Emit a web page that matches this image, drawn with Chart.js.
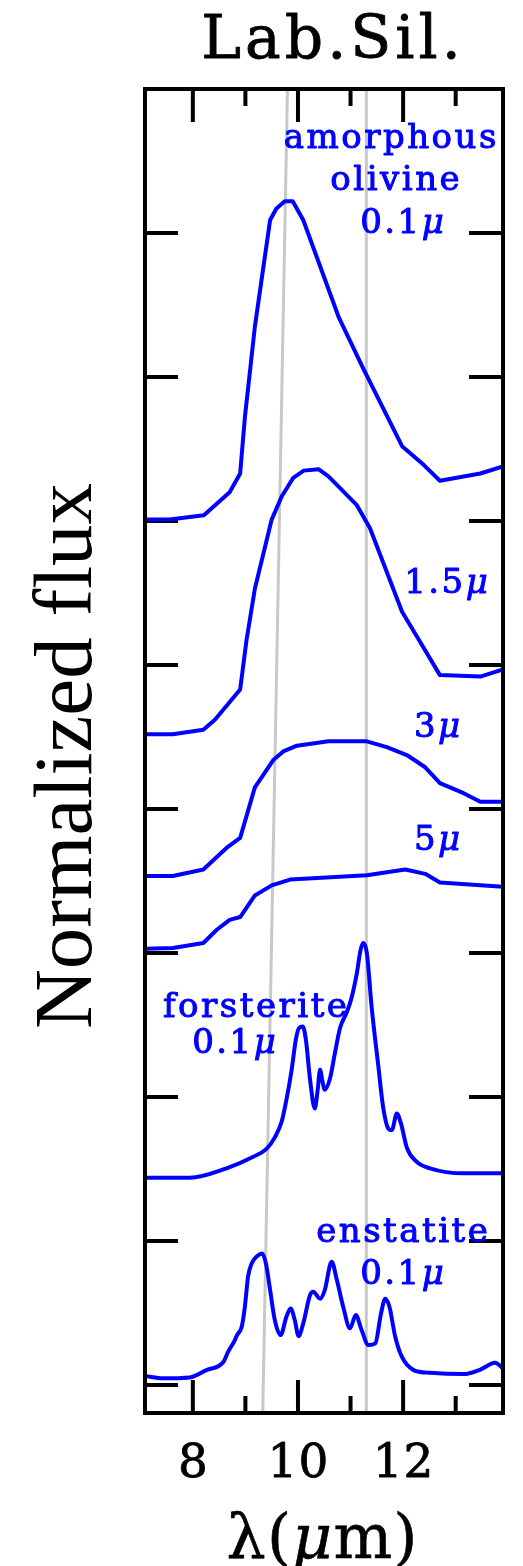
<!DOCTYPE html>
<html>
<head>
<meta charset="utf-8">
<script src="https://cdn.jsdelivr.net/npm/chart.js@4.4.0/dist/chart.umd.min.js"></script>
<style>
  html, body { margin: 0; padding: 0; background: #fff; }
  #wrap { width: 523px; height: 1566px; }
</style>
</head>
<body>
<div id="wrap"><canvas id="labSil" width="523" height="1566"></canvas></div>
<script>
// wavelength (micron) and offset normalized flux
const olivine01X = [7.10, 7.56, 8.21, 8.70, 8.90, 8.99, 9.09, 9.18, 9.47, 9.59, 9.75, 9.90, 10.10, 10.77, 11.24, 11.98, 12.39, 12.70, 13.47, 13.90];
const olivine01Y = [6.01, 6.01, 6.04, 6.20, 6.33, 6.72, 7.05, 7.35, 8.09, 8.17, 8.22, 8.22, 8.09, 7.42, 7.06, 6.52, 6.39, 6.28, 6.33, 6.38];

const olivine15X = [7.10, 7.62, 8.20, 8.42, 8.90, 9.02, 9.18, 9.50, 9.69, 9.91, 10.11, 10.39, 10.58, 11.12, 11.37, 11.98, 12.39, 12.70, 13.47, 13.90];
const olivine15Y = [4.52, 4.52, 4.55, 4.62, 4.83, 5.17, 5.53, 6.01, 6.17, 6.30, 6.35, 6.36, 6.31, 6.11, 5.95, 5.37, 5.12, 4.93, 4.92, 4.97];

const olivine3X = [7.10, 7.62, 8.20, 8.64, 8.90, 9.18, 9.53, 9.72, 9.98, 10.58, 11.31, 11.69, 12.07, 12.42, 12.70, 13.15, 13.47, 13.90];
const olivine3Y = [3.535, 3.535, 3.58, 3.73, 3.80, 4.15, 4.34, 4.40, 4.44, 4.47, 4.47, 4.43, 4.375, 4.29, 4.18, 4.11, 4.05, 4.05];

const olivine5X = [7.10, 7.62, 8.20, 8.45, 8.70, 8.90, 9.18, 9.50, 9.85, 11.31, 12.04, 12.42, 12.70, 13.47, 13.90];
const olivine5Y = [3.03, 3.035, 3.07, 3.16, 3.23, 3.25, 3.40, 3.47, 3.51, 3.54, 3.58, 3.55, 3.49, 3.47, 3.46];

const forsteriteX = [7.10, 7.94, 8.64, 9.15, 9.40, 9.56, 9.69, 9.78, 9.88, 9.96, 10.02, 10.09, 10.15, 10.23, 10.32, 10.375, 10.42, 10.46, 10.51, 10.61, 10.70, 10.80, 10.93, 11.02, 11.12, 11.19, 11.24, 11.31, 11.40, 11.53, 11.62, 11.72, 11.785, 11.88, 11.96, 12.07, 12.26, 12.51, 13.15, 13.90];
const forsteriteY = [1.44, 1.44, 1.505, 1.585, 1.64, 1.72, 1.83, 1.98, 2.19, 2.40, 2.48, 2.49, 2.40, 2.12, 1.92, 2.05, 2.19, 2.12, 2.05, 2.13, 2.30, 2.48, 2.59, 2.69, 2.86, 3.02, 3.07, 3.00, 2.63, 2.21, 1.93, 1.78, 1.77, 1.885, 1.815, 1.65, 1.55, 1.505, 1.47, 1.47];

const enstatiteX = [7.10, 7.43, 7.94, 8.26, 8.58, 8.67, 8.80, 8.84, 8.93, 8.99, 9.05, 9.12, 9.21, 9.32, 9.39, 9.47, 9.56, 9.67, 9.78, 9.86, 9.94, 10.01, 10.10, 10.23, 10.29, 10.42, 10.51, 10.64, 10.74, 10.86, 10.99, 11.10, 11.21, 11.34, 11.47, 11.58, 11.66, 11.74, 11.85, 11.975, 12.20, 12.51, 13.15, 13.47, 13.75, 13.90];
const enstatiteY = [0.062, 0.047, 0.053, 0.104, 0.16, 0.23, 0.3125, 0.347, 0.405, 0.544, 0.752, 0.845, 0.891, 0.914, 0.845, 0.66, 0.45, 0.347, 0.474, 0.532, 0.45, 0.34, 0.428, 0.625, 0.648, 0.60, 0.66, 0.856, 0.729, 0.544, 0.394, 0.486, 0.382, 0.278, 0.289, 0.498, 0.60, 0.544, 0.335, 0.197, 0.104, 0.085, 0.076, 0.108, 0.155, 0.116];

// grey reference lines (x at top and bottom of frame)
const refLine1X = [9.80, 9.33];
const refLine2X = [11.30, 11.30];
const refLineY = [9, -0.194];

const majorXTicks = [8, 10, 12];
const minorXTicks = [9, 11, 13];
const yTicks = [0, 1, 2, 3, 4, 5, 6, 7, 8];

function pts(xs, ys) {
    return xs.map((v, i) => ({ x: v, y: ys[i] }));
}

function curve(xs, ys, smooth) {
    return {
        data: pts(xs, ys),
        borderColor: '#0000ff',
        borderWidth: 4,
        pointRadius: 0,
        tension: smooth ? 0.4 : 0,
        cubicInterpolationMode: smooth ? 'monotone' : 'default',
        borderJoinStyle: 'round',
        order: 1,
    };
}

function refLine(xs) {
    return {
        data: pts(xs, refLineY),
        borderColor: '#c8c8c8',
        borderWidth: 3,
        pointRadius: 0,
        order: 5,
    };
}

// text with optional italic pieces, centred on cx
function drawParts(ctx, parts, cx, base, size, family, color, spacing, weight) {
    ctx.save();
    ctx.fillStyle = color;
    ctx.strokeStyle = color;
    ctx.lineWidth = weight || 0;
    ctx.lineJoin = 'round';
    ctx.textAlign = 'left';
    ctx.textBaseline = 'alphabetic';
    if ('letterSpacing' in ctx) ctx.letterSpacing = spacing + 'px';
    const fonts = parts.map(p => (p[1] ? 'italic ' : '') + size + 'px ' + family);
    const widths = parts.map((p, i) => { ctx.font = fonts[i]; return ctx.measureText(p[0]).width; });
    const total = widths.reduce((s, w) => s + w, 0) - spacing;
    let xx = cx - total / 2;
    parts.forEach((p, i) => {
        ctx.font = fonts[i];
        ctx.fillText(p[0], xx, base);
        if (weight) ctx.strokeText(p[0], xx, base);
        xx += widths[i];
    });
    ctx.restore();
}

const SERIF = '"DejaVu Serif", serif';
const BLUE = '#0000ff';

const frameAndText = {
    id: 'frameAndText',
    beforeDatasetsDraw(chart) {
        const { ctx, chartArea: a, scales: { x, y } } = chart;
        ctx.save();
        ctx.strokeStyle = '#000';
        ctx.lineWidth = 4;
        ctx.beginPath();
        majorXTicks.forEach(v => {
            const px = x.getPixelForValue(v);
            ctx.moveTo(px, a.top); ctx.lineTo(px, a.top + 33);
            ctx.moveTo(px, a.bottom); ctx.lineTo(px, a.bottom - 33);
        });
        minorXTicks.forEach(v => {
            const px = x.getPixelForValue(v);
            ctx.moveTo(px, a.top); ctx.lineTo(px, a.top + 17);
            ctx.moveTo(px, a.bottom); ctx.lineTo(px, a.bottom - 17);
        });
        yTicks.forEach(v => {
            const py = y.getPixelForValue(v);
            ctx.moveTo(a.left, py); ctx.lineTo(a.left + 33, py);
            ctx.moveTo(a.right, py); ctx.lineTo(a.right - 34, py);
        });
        ctx.stroke();
        ctx.restore();
    },
    afterDraw(chart) {
        const { ctx, chartArea: a, scales: { x } } = chart;
        ctx.save();
        ctx.strokeStyle = '#000';
        ctx.lineWidth = 4;
        ctx.strokeRect(a.left, a.top, a.right - a.left, a.bottom - a.top);
        ctx.restore();

        // tick labels
        majorXTicks.forEach(v => {
            drawParts(ctx, [[String(v), false]], x.getPixelForValue(v), 1477, 47, SERIF, '#000', 1, 0.8);
        });

        // title and axis titles
        drawParts(ctx, [['Lab.Sil.', false]], 331, 58, 60, SERIF, '#000', 4, 0.8);
        drawParts(ctx, [['λ(', false], ['μ', true], ['m)', false]], 322, 1558, 62, SERIF, '#000', 1, 0.6);

        ctx.save();
        ctx.translate(91, 756);
        ctx.rotate(-Math.PI / 2);
        drawParts(ctx, [['Normalized flux', false]], 0, 0, 83, '"Liberation Serif", serif', '#000', 0, 0);
        ctx.restore();

        // curve labels
        const lab = (parts, cx, base) => drawParts(ctx, parts, cx, base, 34, SERIF, BLUE, 2.5, 1);
        lab([['amorphous', false]], 390, 148);
        lab([['olivine', false]], 395, 190);
        lab([['0.1', false], ['μ', true]], 402, 233);
        lab([['1.5', false], ['μ', true]], 446, 593);
        lab([['3', false], ['μ', true]], 437, 737);
        lab([['5', false], ['μ', true]], 437, 850);
        lab([['forsterite', false]], 255, 1017);
        lab([['0.1', false], ['μ', true]], 234, 1053);
        lab([['enstatite', false]], 402, 1242);
        lab([['0.1', false], ['μ', true]], 402, 1284);
    }
};

new Chart(document.getElementById('labSil').getContext('2d'), {
    type: 'line',
    data: {
        datasets: [
            curve(olivine01X, olivine01Y, false),
            curve(olivine15X, olivine15Y, false),
            curve(olivine3X, olivine3Y, false),
            curve(olivine5X, olivine5Y, false),
            curve(forsteriteX, forsteriteY, true),
            curve(enstatiteX, enstatiteY, true),
            refLine(refLine1X),
            refLine(refLine2X),
        ],
    },
    options: {
        responsive: false,
        animation: false,
        layout: { padding: { left: 145, right: 20, top: 89, bottom: 153 } },
        plugins: {
            legend: { display: false },
            tooltip: { enabled: false },
        },
        scales: {
            x: { type: 'linear', min: 7.09, max: 13.9, display: false },
            y: { type: 'linear', min: -0.194, max: 9, display: false },
        },
    },
    plugins: [frameAndText],
});
</script>
</body>
</html>
